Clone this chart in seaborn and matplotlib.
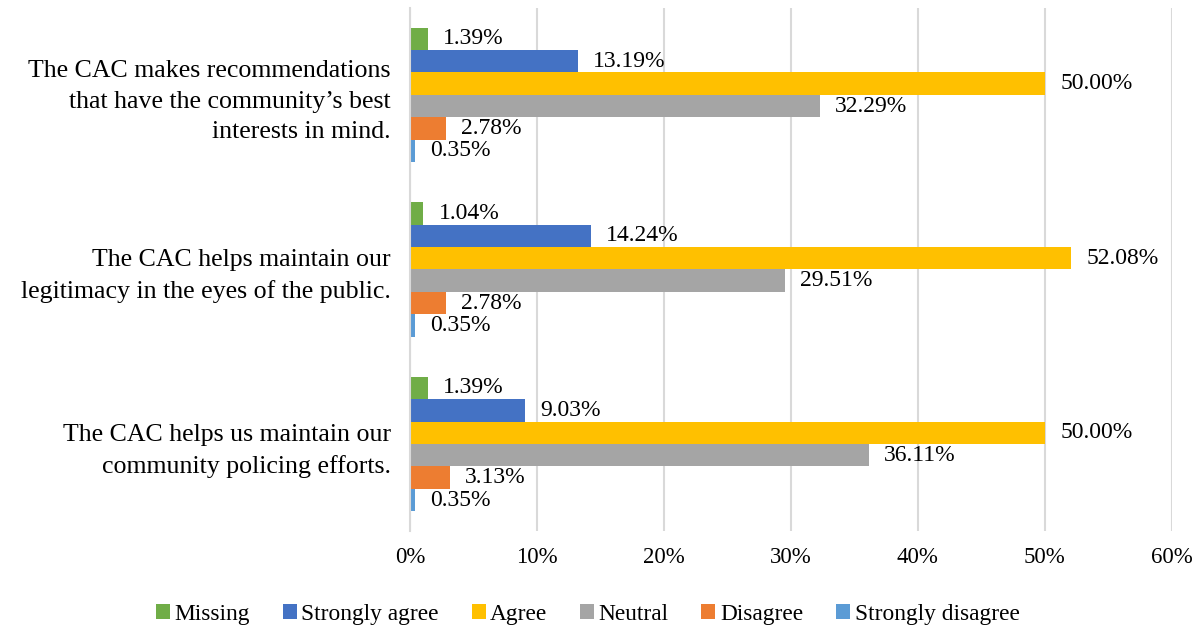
import pandas as pd
import numpy as np
import matplotlib.pyplot as plt
import seaborn as sns

# statements and response categories
statements = [
    "The CAC makes recommendations\nthat have the community\u2019s best\ninterests in mind.",
    "The CAC helps maintain our\nlegitimacy in the eyes of the public.",
    "The CAC helps us maintain our\ncommunity policing efforts.",
]
responses = ["Missing", "Strongly agree", "Agree", "Neutral", "Disagree", "Strongly disagree"]

missing = [1.39, 1.04, 1.39]
strongly_agree = [13.19, 14.24, 9.03]
agree = [50.00, 52.08, 50.00]
neutral = [32.29, 29.51, 36.11]
disagree = [2.78, 2.78, 3.13]
strongly_disagree = [0.35, 0.35, 0.35]

colors = ["#70AD47", "#4472C4", "#FFC000", "#A5A5A5", "#ED7D31", "#5B9BD5"]

series = [missing, strongly_agree, agree, neutral, disagree, strongly_disagree]
rows = []
for resp, vals in zip(responses, series):
    for st, v in zip(statements, vals):
        rows.append({"Statement": st, "Response": resp, "Percent": v})
df = pd.DataFrame(rows)

sns.set_style("white")
plt.rcParams["font.family"] = ["Liberation Serif", "DejaVu Serif"]

fig = plt.figure(figsize=(12.03, 6.28), dpi=100)
ax = fig.add_axes([0.341, 0.154, 0.633, 0.834])

sns.barplot(data=df, y="Statement", x="Percent", hue="Response", order=statements,
            hue_order=responses, palette=colors, orient="h", width=0.77,
            saturation=1, linewidth=0, ax=ax, legend=True)

for cont in ax.containers:
    ax.bar_label(cont, labels=[f"{w:.2f}%" for w in cont.datavalues],
                 padding=11, fontsize=17, color="black")

ax.set_xlim(0, 60)
ax.set_ylim(2.5, -0.5)
ax.set_xticks(np.arange(0, 61, 10))
ax.set_xticklabels([f"{t}%" for t in range(0, 61, 10)], fontsize=16.5)
for lbl in ax.get_yticklabels():
    lbl.set_linespacing(1.5)
ax.tick_params(axis="y", labelsize=18.6, length=0, pad=14, labelcolor="black")
ax.tick_params(axis="x", length=0, pad=11, labelcolor="black")
ax.grid(axis="x", color="#D9D9D9", linewidth=1.5)
ax.set_axisbelow(True)
for s in ["top", "right", "bottom"]:
    ax.spines[s].set_visible(False)
ax.spines["left"].set_color("#D9D9D9")
ax.spines["left"].set_linewidth(1.5)
ax.set_xlabel("")
ax.set_ylabel("")

ax.legend(loc="center", bbox_to_anchor=(0.233, -0.158), ncol=6, frameon=False,
          fontsize=16.8, handlelength=0.6, handleheight=0.6, handletextpad=0.2,
          columnspacing=1.4, labelcolor="black")

fig.savefig("out.png", dpi=100)
